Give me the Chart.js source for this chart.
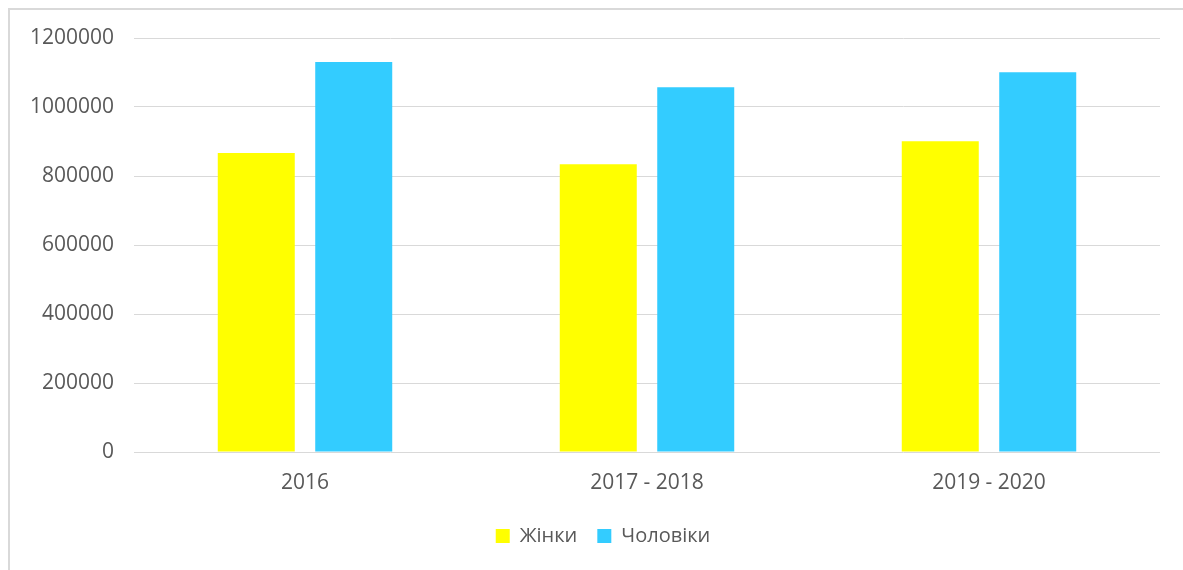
<!DOCTYPE html>
<html>
<head>
<meta charset="utf-8">
<script src="https://cdn.jsdelivr.net/npm/chart.js@4"></script>
<style>
  html, body { margin: 0; padding: 0; background: #fff; }
  #wrap { position: relative; width: 1183px; height: 570px; overflow: hidden; }
  #frame { position: absolute; left: 8px; top: 8px; width: 1300px; height: 700px;
           border-left: 2px solid #d9d9d9; border-top: 2px solid #d9d9d9; }
  canvas { position: absolute; left: 0; top: 0; }
</style>
</head>
<body>
<div id="wrap">
  <div id="frame"></div>
  <canvas id="c" width="1183" height="570"></canvas>
</div>
<script>
const categories = ["2016", "2017 - 2018", "2019 - 2020"];
const women = [867000, 834000, 900500];
const men = [1130500, 1057000, 1100500];
const seriesNames = ["Жінки", "Чоловіки"];
const yTicks = [0, 200000, 400000, 600000, 800000, 1000000, 1200000];

const FONT = "'Open Sans', 'Liberation Sans', sans-serif";
const TXT = "#595959";

const legendShift = {
  id: "legendShift",
  afterLayout(chart) {
    if (chart.legend) { chart.legend.left += 18; chart.legend.right += 18; }
  }
};

new Chart(document.getElementById("c"), {
  type: "bar",
  data: {
    labels: categories,
    datasets: [
      { label: seriesNames[0], data: women, backgroundColor: "#FFFF00", borderWidth: 0,
        categoryPercentage: 0.57, barPercentage: 0.79 },
      { label: seriesNames[1], data: men, backgroundColor: "#33CCFF", borderWidth: 0,
        categoryPercentage: 0.57, barPercentage: 0.79 }
    ]
  },
  plugins: [legendShift],
  options: {
    responsive: false,
    animation: false,
    devicePixelRatio: 1,
    layout: { padding: { left: 10, right: 23, top: 38, bottom: 14 } },
    plugins: {
      tooltip: { enabled: false },
      legend: {
        position: "bottom",
        labels: {
          color: TXT,
          font: { family: FONT, size: 20 },
          boxWidth: 14, boxHeight: 14, padding: 20
        }
      }
    },
    scales: {
      x: {
        grid: { display: false, drawTicks: false },
        border: { display: false },
        ticks: { color: TXT, font: { family: FONT, size: 21 }, padding: 18 },
        afterFit: s => { s.height = 54; }
      },
      y: {
        min: 0, max: 1200000,
        afterBuildTicks: s => { s.ticks = yTicks.map(v => ({ value: v })); },
        ticks: { color: TXT, font: { family: FONT, size: 21 }, padding: 20,
                 callback: v => String(v) },
        grid: { color: "#d9d9d9", lineWidth: 1, drawTicks: false },
        border: { display: false },
        afterFit: s => { s.width = 124; }
      }
    }
  }
});
</script>
</body>
</html>
